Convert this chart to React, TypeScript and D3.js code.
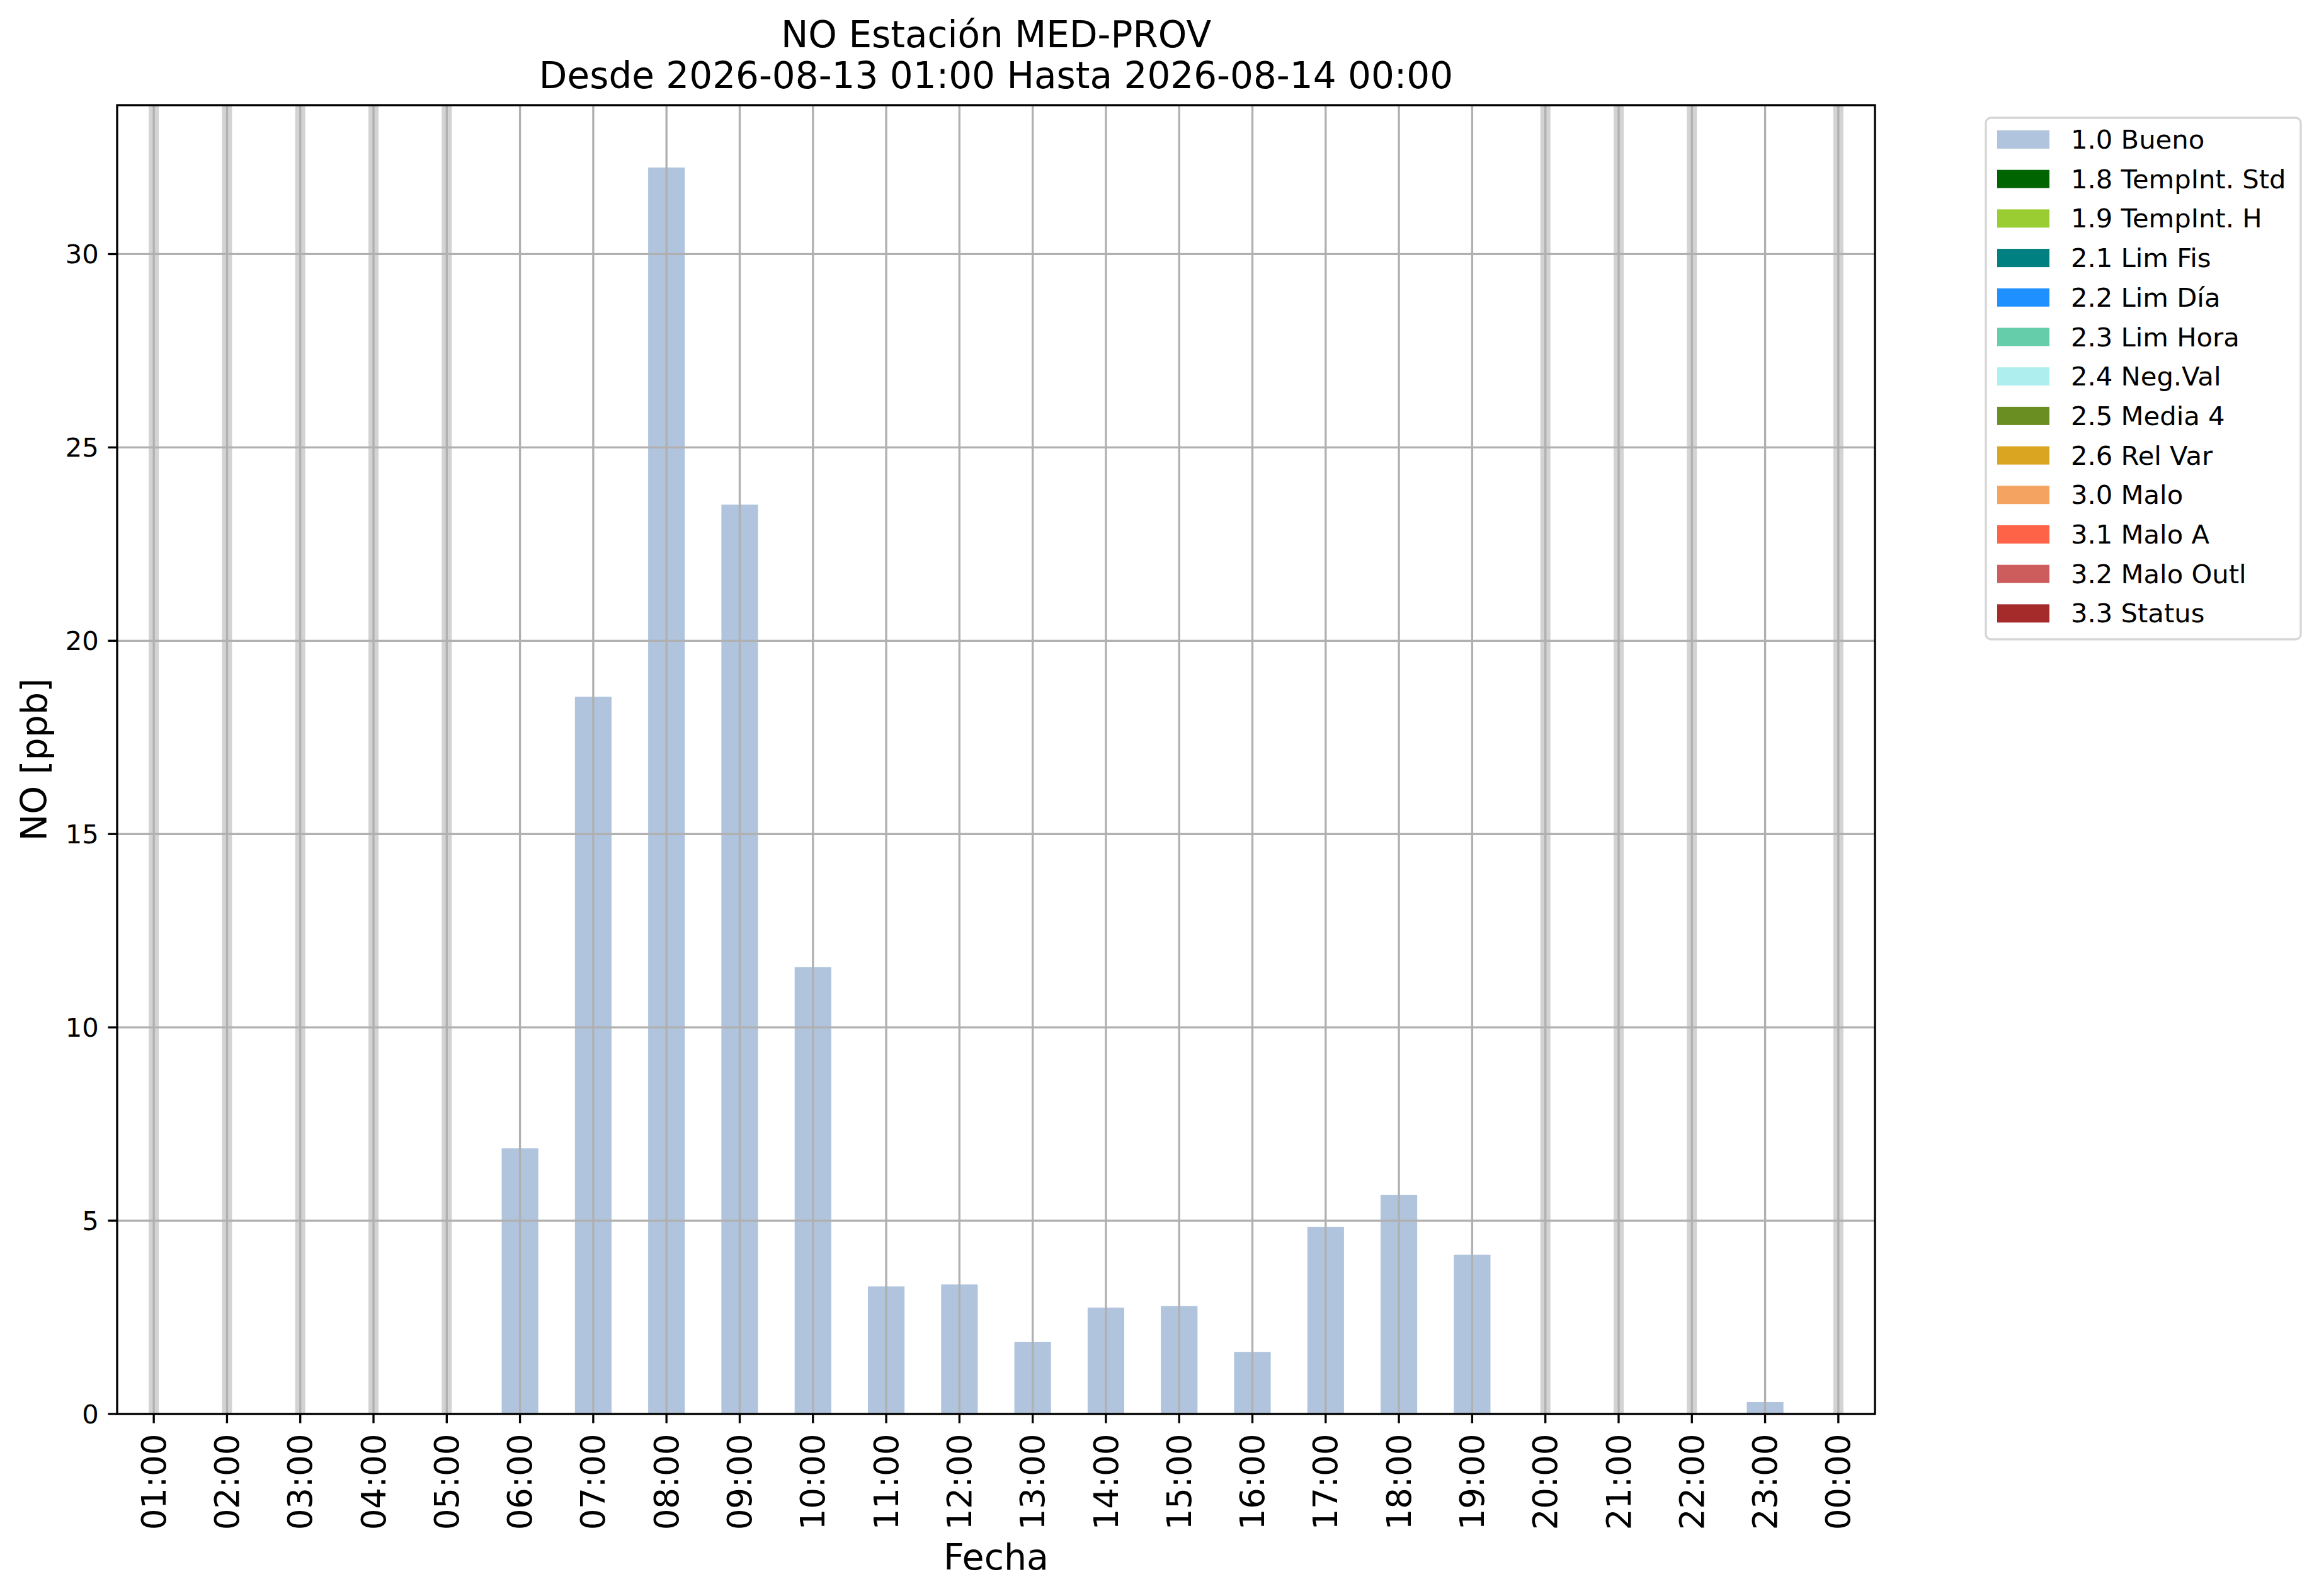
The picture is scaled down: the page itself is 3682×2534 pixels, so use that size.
import React from "react";
import * as d3 from "d3";

const hours = [
  "01:00", "02:00", "03:00", "04:00", "05:00", "06:00", "07:00", "08:00",
  "09:00", "10:00", "11:00", "12:00", "13:00", "14:00", "15:00", "16:00",
  "17:00", "18:00", "19:00", "20:00", "21:00", "22:00", "23:00", "00:00",
];

// NO [ppb]; null = missing data (drawn as grey band)
const noValues: (number | null)[] = [
  null, null, null, null, null, 6.87, 18.55, 32.24,
  23.52, 11.56, 3.30, 3.35, 1.86, 2.75, 2.79, 1.60,
  4.84, 5.67, 4.12, null, null, null, 0.31, null,
];

const yTicks = [0, 5, 10, 15, 20, 25, 30];

const legendLabels = [
  "1.0 Bueno", "1.8 TempInt. Std", "1.9 TempInt. H", "2.1 Lim Fis", "2.2 Lim Día",
  "2.3 Lim Hora", "2.4 Neg.Val", "2.5 Media 4", "2.6 Rel Var", "3.0 Malo",
  "3.1 Malo A", "3.2 Malo Outl", "3.3 Status",
];
const legendColors = [
  "#b0c4de", "#006400", "#9acd32", "#008080", "#1e90ff",
  "#66cdaa", "#afeeee", "#6b8e23", "#daa520", "#f4a460",
  "#ff6347", "#cd5c5c", "#a52a2a",
];

const titleLines = ["NO Estación MED-PROV", "Desde 2026-08-13 01:00 Hasta 2026-08-14 00:00"];

const W = 3682;
const H = 2534;
const L = 186, R = 2977, T = 167, B = 2245;
const FONT = "'DejaVu Sans', sans-serif";

export default function App() {
  const x = d3.scaleLinear().domain([-0.5, hours.length - 0.5]).range([L, R]);
  const ymax = (d3.max(noValues, (v) => v ?? 0) as number) * 1.05;
  const y = d3.scaleLinear().domain([0, ymax]).range([B, T]);
  const barW = x(0.5) - x(0);
  const lw = 3.33;
  const tickLen = 14.6;
  const cx = (L + R) / 2;
  const cy = (T + B) / 2;

  const legX = 3153, legY = 187, legW = 500, legH = 828;
  const rowPitch = 62.7;
  const row0 = 221.5;

  return (
    <svg
      width={W}
      height={H}
      viewBox={`0 0 ${W} ${H}`}
      style={{ position: "absolute", left: 0, top: 0, background: "#fff" }}
      fontFamily={FONT}
    >
      <rect x={0} y={0} width={W} height={H} fill="#fff" />
      {/* title */}
      {titleLines.map((t, i) => (
        <text key={t} x={cx} y={75 + i * 65} fontSize={58} textAnchor="middle" fill="#000">
          {t}
        </text>
      ))}
      {/* missing-data bands */}
      {noValues.map((v, i) =>
        v === null ? (
          <line key={"band" + i} x1={x(i)} x2={x(i)} y1={T} y2={B} stroke="#d3d3d3" strokeWidth={16} />
        ) : null
      )}
      {/* bars */}
      {noValues.map((v, i) =>
        v !== null ? (
          <rect key={"bar" + i} x={x(i) - barW / 2} y={y(v)} width={barW} height={B - y(v)} fill="#b0c4de" />
        ) : null
      )}
      {/* grid */}
      {hours.map((h, i) => (
        <line key={"gx" + h} x1={x(i)} x2={x(i)} y1={T} y2={B} stroke="#b0b0b0" strokeWidth={lw} />
      ))}
      {yTicks.map((t) => (
        <line key={"gy" + t} x1={L} x2={R} y1={y(t)} y2={y(t)} stroke="#b0b0b0" strokeWidth={lw} />
      ))}
      {/* spines */}
      <rect x={L} y={T} width={R - L} height={B - T} fill="none" stroke="#000" strokeWidth={lw} />
      {/* x ticks */}
      {hours.map((h, i) => (
        <g key={"xt" + h}>
          <line x1={x(i)} x2={x(i)} y1={B} y2={B + tickLen} stroke="#000" strokeWidth={lw} />
          <text
            transform={`translate(${x(i)},${B + tickLen + 17}) rotate(-90)`}
            textAnchor="end"
            dy="0.35em"
            fontSize={53}
            fill="#000"
          >
            {h}
          </text>
        </g>
      ))}
      {/* y ticks */}
      {yTicks.map((t) => (
        <g key={"yt" + t}>
          <line x1={L - tickLen} x2={L} y1={y(t)} y2={y(t)} stroke="#000" strokeWidth={lw} />
          <text x={L - tickLen - 14.6} y={y(t)} dy="0.35em" textAnchor="end" fontSize={41.7} fill="#000">
            {t}
          </text>
        </g>
      ))}
      {/* axis labels */}
      <text x={cx} y={2492} textAnchor="middle" fontSize={57} fill="#000">
        Fecha
      </text>
      <text transform={`translate(74,${cy}) rotate(-90)`} textAnchor="middle" fontSize={57} fill="#000">
        NO [ppb]
      </text>
      {/* legend */}
      <rect
        x={legX}
        y={legY}
        width={legW}
        height={legH}
        rx={8}
        ry={8}
        fill="#fff"
        fillOpacity={0.8}
        stroke="#d6d6d6"
        strokeWidth={lw}
      />
      {legendLabels.map((lab, i) => {
        const c = row0 + i * rowPitch;
        return (
          <g key={lab}>
            <rect x={3171} y={c - 14.5} width={83} height={29} fill={legendColors[i]} />
            <text x={3288} y={c + 14.5} fontSize={41.7} fill="#000">
              {lab}
            </text>
          </g>
        );
      })}
    </svg>
  );
}
